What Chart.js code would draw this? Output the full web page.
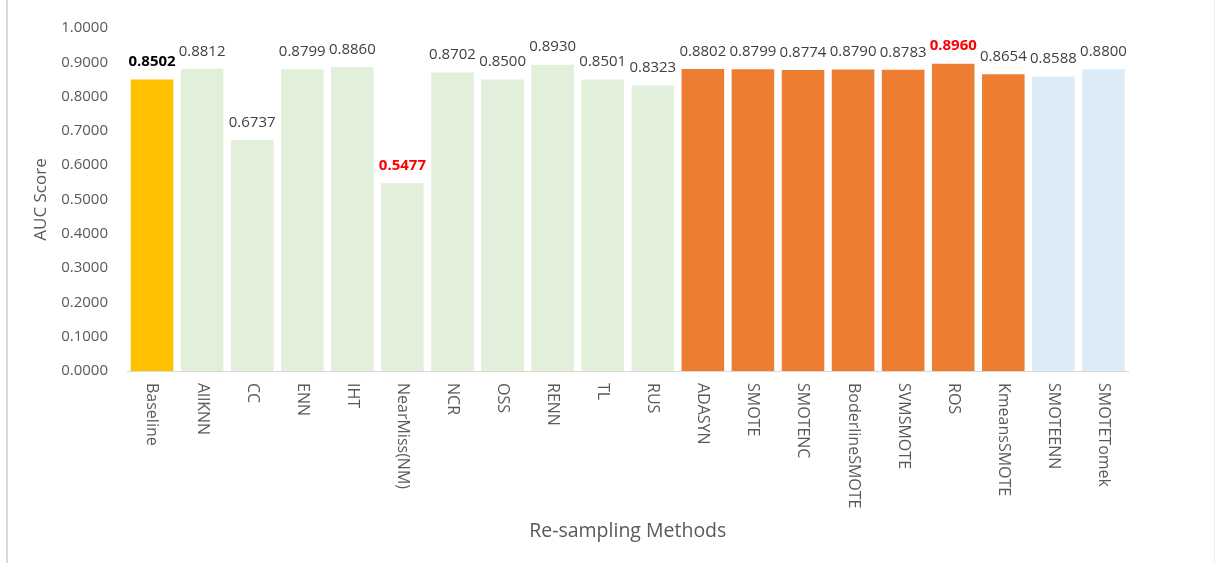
<!DOCTYPE html>
<html>
<head>
<meta charset="utf-8">
<script src="https://cdn.jsdelivr.net/npm/chart.js@4/dist/chart.umd.min.js"></script>
<style>
  body { margin: 0; background: #fff; }
  #wrap { position: relative; width: 1217px; height: 566px; }
</style>
</head>
<body>
<div id="wrap"><canvas id="myChart" width="1217" height="566"></canvas></div>
<script>
// data
const methods = ['Baseline', 'AllKNN', 'CC', 'ENN', 'IHT', 'NearMiss(NM)', 'NCR', 'OSS', 'RENN', 'TL', 'RUS',
  'ADASYN', 'SMOTE', 'SMOTENC', 'BoderlineSMOTE', 'SVMSMOTE', 'ROS', 'KmeansSMOTE', 'SMOTEENN', 'SMOTETomek'];
const aucScores = [0.8502, 0.8812, 0.6737, 0.8799, 0.8860, 0.5477, 0.8702, 0.8500, 0.8930, 0.8501, 0.8323,
  0.8802, 0.8799, 0.8774, 0.8790, 0.8783, 0.8960, 0.8654, 0.8588, 0.8800];
const groups = ['base', 'under', 'under', 'under', 'under', 'under', 'under', 'under', 'under', 'under', 'under',
  'over', 'over', 'over', 'over', 'over', 'over', 'over', 'combo', 'combo'];
const yTicks = [0, 0.1, 0.2, 0.3, 0.4, 0.5, 0.6, 0.7, 0.8, 0.9, 1.0];

// styles
const groupColor = { base: '#FFC000', under: '#E2EFDA', over: '#ED7D31', combo: '#DDEBF7' };
const labelHighlight = { 'Baseline': '#000000', 'NearMiss(NM)': '#FF0000', 'ROS': '#FF0000' };
const FONT = '"Open Sans", "DejaVu Sans", sans-serif';

// frame line + data labels + rotated category labels
const drawExtras = {
  id: 'drawExtras',
  afterDraw(chart) {
    const ctx = chart.ctx;
    const x = chart.scales.x;
    const y = chart.scales.y;
    ctx.save();
    ctx.fillStyle = '#D9D9D9';
    ctx.fillRect(6, 0, 2, 563);
    ctx.fillStyle = '#F0F0F0';
    ctx.fillRect(1214, 0, 1, 563);

    // value labels
    ctx.textAlign = 'center';
    ctx.textBaseline = 'middle';
    aucScores.forEach(function (v, i) {
      const hl = labelHighlight[methods[i]];
      ctx.font = (hl ? 'bold ' : '') + '15px ' + FONT;
      ctx.fillStyle = hl || '#404040';
      ctx.fillText(v.toFixed(4), x.getPixelForTick(i), y.getPixelForValue(v) - 17.5);
    });

    // category labels, reading downward
    ctx.font = '16px ' + FONT;
    ctx.fillStyle = '#595959';
    ctx.textAlign = 'left';
    methods.forEach(function (m, i) {
      ctx.save();
      ctx.translate(x.getPixelForTick(i), y.bottom + 12);
      ctx.rotate(Math.PI / 2);
      ctx.fillText(m, 0, 0);
      ctx.restore();
    });
    ctx.restore();
  }
};

const ctx = document.getElementById('myChart').getContext('2d');
const chart = new Chart(ctx, {
  type: 'bar',
  data: {
    labels: methods,
    datasets: [{
      label: 'AUC Score',
      data: aucScores,
      backgroundColor: groups.map(g => groupColor[g]),
      borderWidth: 0,
      barPercentage: 0.85,
      categoryPercentage: 1.0
    }]
  },
  options: {
    responsive: false,
    animation: false,
    layout: { padding: { left: 31, right: 88.5, top: 28, bottom: 23 } },
    plugins: { legend: { display: false }, tooltip: { enabled: false } },
    scales: {
      x: {
        grid: { display: false },
        border: { display: true, color: '#D9D9D9', width: 1 },
        ticks: { display: false },
        title: {
          display: true, text: 'Re-sampling Methods', color: '#595959',
          font: { family: FONT, size: 19.5 }, padding: { top: 0, bottom: 0 }
        },
        afterFit(scale) { scale.height = 172; }
      },
      y: {
        min: 0, max: 1,
        grid: { display: false },
        border: { display: false },
        afterBuildTicks(scale) { scale.ticks = yTicks.map(v => ({ value: v })); },
        ticks: {
          color: '#595959', padding: 11,
          font: { family: FONT, size: 15 },
          callback: v => Number(v).toFixed(4)
        },
        title: {
          display: true, text: 'AUC Score', color: '#595959',
          font: { family: FONT, size: 17 }, padding: { top: 0, bottom: 0 }
        },
        afterFit(scale) { scale.width = 96; }
      }
    }
  },
  plugins: [drawExtras]
});
</script>
</body>
</html>
